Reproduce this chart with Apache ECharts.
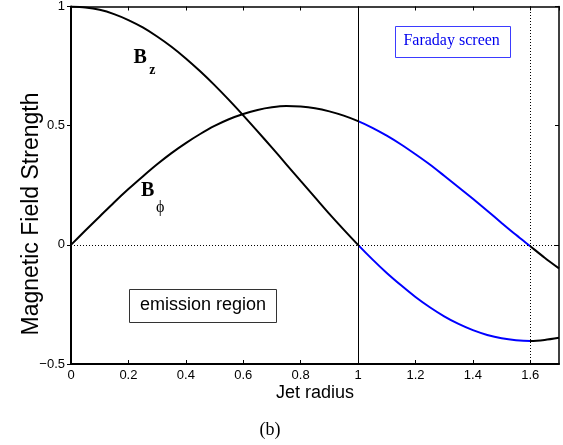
<!DOCTYPE html>
<html>
<head>
<meta charset="utf-8">
<script src="https://cdn.jsdelivr.net/npm/echarts@6/dist/echarts.min.js"></script>
<style>
  html, body { margin: 0; padding: 0; background: #fff; }
  #chart { width: 563px; height: 445px; }
</style>
</head>
<body>
<div id="chart"></div>
<script>
// values (jet radius vs field strength)
const radius = [0, 0.05, 0.1, 0.15, 0.2, 0.25, 0.3, 0.35, 0.4, 0.45, 0.5, 0.55, 0.6, 0.65, 0.7, 0.75, 0.8, 0.85,
                0.9, 0.95, 1.0, 1.05, 1.1, 1.15, 1.2, 1.25, 1.3, 1.35, 1.4, 1.45, 1.5, 1.55, 1.6, 1.65, 1.7];
const bz   = [1, 0.996, 0.986, 0.968, 0.943, 0.912, 0.874, 0.831, 0.782, 0.728, 0.670, 0.608, 0.543, 0.476, 0.408, 0.338,
              0.268, 0.199, 0.130, 0.064, 0, -0.061, -0.118, -0.170, -0.219, -0.262, -0.300, -0.332, -0.358, -0.378,
              -0.392, -0.400, -0.403, -0.399, -0.390];
const bphi = [0, 0.060, 0.119, 0.178, 0.234, 0.287, 0.338, 0.385, 0.427, 0.465, 0.499, 0.527, 0.549, 0.566, 0.577, 0.582,
              0.580, 0.573, 0.560, 0.542, 0.519, 0.491, 0.458, 0.421, 0.380, 0.337, 0.290, 0.242, 0.193, 0.143,
              0.092, 0.042, -0.006, -0.054, -0.099];

// faraday screen spans from the edge of the emission region to the B_phi zero
const screenFrom = 1.0;
const screenTo = 1.6;

const FONT = '"Liberation Sans", Arial, Helvetica, sans-serif';
const SERIF = '"Liberation Serif", "Times New Roman", serif';

const chart = echarts.init(document.getElementById('chart'));

const pairs = vals => radius.map((r, i) => [r, vals[i]]);
const minus = v => (v < 0 ? '\u2212' + Math.abs(v) : String(v));

const option = {
    animation: false,
    backgroundColor: '#fff',
    grid: { left: 71, right: 4, top: 6, bottom: 81 },
    xAxis: [
        {
            type: 'value', min: 0, max: 1.7, interval: 0.2,
            axisLine: { onZero: false, lineStyle: { color: '#000', width: 2 } },
            axisTick: { inside: true, length: 4, lineStyle: { color: '#000' } },
            axisLabel: { color: '#000', fontSize: 13, fontFamily: FONT, margin: 5, showMaxLabel: false },
            splitLine: { show: false }
        },
        {
            type: 'value', position: 'top', min: 0, max: 1.7, interval: 0.2,
            axisLine: { onZero: false, lineStyle: { color: '#000', width: 1.5 } },
            axisTick: { inside: true, length: 4, lineStyle: { color: '#000' } },
            axisLabel: { show: false },
            splitLine: { show: false }
        }
    ],
    yAxis: [
        {
            type: 'value', min: -0.5, max: 1, interval: 0.5,
            axisLine: { onZero: false, lineStyle: { color: '#000', width: 2 } },
            axisTick: { inside: false, length: 4, lineStyle: { color: '#000' } },
            axisLabel: { color: '#000', fontSize: 13, fontFamily: FONT, margin: 6, formatter: minus },
            splitLine: { show: false }
        },
        {
            type: 'value', position: 'right', min: -0.5, max: 1, interval: 0.5,
            axisLine: { show: true, onZero: false, lineStyle: { color: '#000', width: 1.5 } },
            axisTick: { show: true, inside: true, length: 4, lineStyle: { color: '#000' } },
            axisLabel: { show: false },
            splitLine: { show: false }
        }
    ],
    visualMap: [{
        type: 'piecewise', show: false, dimension: 0, seriesIndex: [0, 1],
        pieces: [{ gte: screenFrom, lte: screenTo, color: '#0000ff' }],
        outOfRange: { color: '#000000' }
    }],
    series: [
        {
            name: 'Bz', type: 'line', data: pairs(bz), smooth: 0.3,
            showSymbol: false, lineStyle: { width: 2 }, z: 3,
            markLine: {
                silent: true, symbol: 'none', label: { show: false },
                data: [
                    { xAxis: screenFrom, lineStyle: { color: '#000', width: 1, type: 'solid' } },
                    { xAxis: screenTo, lineStyle: { color: '#000', width: 1, type: [1, 2] } },
                    { yAxis: 0, lineStyle: { color: '#000', width: 1, type: [1, 2] } }
                ]
            }
        },
        {
            name: 'Bphi', type: 'line', data: pairs(bphi), smooth: 0.3,
            showSymbol: false, lineStyle: { width: 2 }, z: 3
        }
    ]
};
chart.setOption(option);

// annotations placed in data coordinates
const px = p => chart.convertToPixel({ gridIndex: 0 }, p);

function text(at, str, font, fill, extra) {
    const p = Array.isArray(at) ? px(at) : [at.x, at.y];
    return Object.assign({
        type: 'text', x: p[0], y: p[1], z: 10,
        style: { text: str, font: font, fill: fill || '#000', align: 'center', verticalAlign: 'middle',
                 textAlign: 'center', textVerticalAlign: 'middle' }
    }, extra || {});
}

function box(from, to, stroke) {
    const a = px(from), b = px(to);
    return {
        type: 'rect', z: 9,
        shape: { x: Math.round(a[0]) + 0.5, y: Math.round(a[1]) + 0.5,
                 width: Math.round(b[0] - a[0]), height: Math.round(b[1] - a[1]) },
        style: { fill: '#fff', stroke: stroke, lineWidth: 1 }
    };
}

const graphics = [
    text([0.241, 0.784], 'B', 'bold 20px ' + SERIF),
    text([0.283, 0.731], 'z', 'bold 14px ' + SERIF),
    text([0.267, 0.225], 'B', 'bold 20px ' + SERIF),
    text([0.311, 0.155], '\u03d5', '16px ' + SERIF),
    box([1.128, 0.92], [1.528, 0.79], '#3b3bff'),
    text([1.326, 0.857], 'Faraday screen', '16px ' + SERIF, '#0000ee'),
    box([0.203, -0.185], [0.714, -0.324], '#333'),
    text([0.460, -0.252], 'emission region', '18px ' + FONT),
    text({ x: 315, y: 393 }, 'Jet radius', '18px ' + FONT),
    text({ x: 32, y: 214 }, 'Magnetic Field Strength', '23px ' + FONT, '#000', { rotation: Math.PI / 2 }),
    text({ x: 270, y: 430 }, '(b)', '18px ' + SERIF)
];
chart.setOption({ graphic: { elements: graphics } });
</script>
</body>
</html>
